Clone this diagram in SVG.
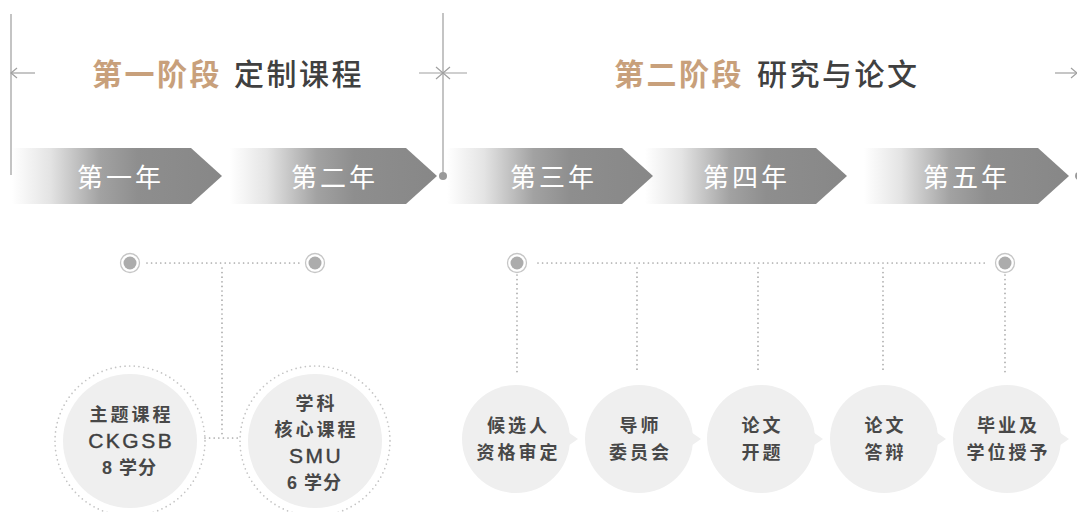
<svg xmlns="http://www.w3.org/2000/svg" width="1077" height="512" viewBox="0 0 1077 512">
  <defs>
    <linearGradient id="bannerGrad" x1="0" y1="0" x2="1" y2="0">
      <stop offset="0" stop-color="#ffffff"/>
      <stop offset="0.18" stop-color="#e4e4e4"/>
      <stop offset="0.42" stop-color="#a2a2a2"/>
      <stop offset="0.6" stop-color="#8e8e8e"/>
      <stop offset="1" stop-color="#878787"/>
    </linearGradient>
    <style>
      .title-a { font-family: "Noto Sans CJK SC", "Liberation Sans", sans-serif; font-size: 30px; font-weight: 700; fill: #c8a07b; letter-spacing: 2.5px; }
      .title-b { font-family: "Noto Sans CJK SC", "Liberation Sans", sans-serif; font-size: 30px; font-weight: 500; fill: #404040; letter-spacing: 2.5px; }
      .year { font-family: "Noto Sans CJK SC", "Liberation Sans", sans-serif; font-size: 26px; font-weight: 400; fill: #ffffff; letter-spacing: 3px; text-anchor: middle; }
      .banner { fill: url(#bannerGrad); }
      .guide { stroke: #b0b0b0; stroke-width: 1.5; fill: none; }
      .arrow { stroke: #a0a0a0; stroke-width: 1.2; fill: none; }
      .dots { stroke: #a8a8a8; stroke-width: 1.7; stroke-linecap: round; stroke-dasharray: 0 4.6; fill: none; }
      .ring-dots { stroke: #c4c4c4; stroke-width: 1.7; stroke-linecap: round; stroke-dasharray: 0 4.7; fill: none; }
      .marker-ring { fill: #ffffff; stroke: #c6c6c6; stroke-width: 1.3; }
      .marker-dot { fill: #acacac; }
      .bubble { fill: #efefef; }
      .lbl { font-family: "Liberation Sans", "Noto Sans CJK SC", sans-serif; font-size: 18px; font-weight: 700; fill: #484848; letter-spacing: 3px; text-anchor: middle; }
      .lbl-num { letter-spacing: 1px; }
      .lbl-en { font-family: "Liberation Sans", "Noto Sans CJK SC", sans-serif; font-size: 21px; font-weight: 400; fill: #404040; letter-spacing: 2.5px; text-anchor: middle; stroke: #404040; stroke-width: 0.4; }
    </style>
  </defs>

  <rect x="0" y="0" width="1077" height="512" fill="#ffffff"/>

  <!-- Stage headers -->
  <g id="stage1-title">
    <text class="title-a" x="92" y="85">第一阶段</text>
    <text class="title-b" x="234" y="85">定制课程</text>
  </g>
  <g id="stage2-title">
    <text class="title-a" x="614" y="85">第二阶段</text>
    <text class="title-b" x="757" y="85">研究与论文</text>
  </g>

  <!-- Year banners (drawn right to left so each tip overlays the next one's faded start) -->
  <g id="year5">
    <path class="banner" d="M864,148 H1038 L1069,176 L1038,204 H864 Z"/>
    <text class="year" x="966.5" y="187">第五年</text>
  </g>
  <g id="year4">
    <path class="banner" d="M645,148 H816 L847,176 L816,204 H645 Z"/>
    <text class="year" x="746.5" y="187">第四年</text>
  </g>
  <g id="year3">
    <path class="banner" d="M447,148 H622 L653,176 L622,204 H447 Z"/>
    <text class="year" x="553.5" y="187">第三年</text>
  </g>
  <g id="year2">
    <path class="banner" d="M230,148 H406 L437,176 L406,204 H230 Z"/>
    <text class="year" x="334.5" y="187">第二年</text>
  </g>
  <g id="year1">
    <path class="banner" d="M12,148 H191 L222,176 L191,204 H12 Z"/>
    <text class="year" x="120.5" y="187">第一年</text>
  </g>

  <!-- Stage span guides -->
  <g id="guides">
    <line class="guide" x1="11" y1="14" x2="11" y2="175"/>
    <line class="guide" x1="443" y1="13" x2="443" y2="176"/>
    <circle cx="443" cy="176" r="4" fill="#9a9a9a"/>
    <circle cx="1079" cy="176" r="4" fill="#9a9a9a"/>
    <line class="arrow" x1="11" y1="73" x2="35" y2="73"/>
    <polyline class="arrow" points="17,68 11,73 17,78"/>
    <line class="arrow" x1="419" y1="73" x2="467" y2="73"/>
    <polyline class="arrow" points="436,67 443,73 436,79"/>
    <polyline class="arrow" points="450,67 443,73 450,79"/>
    <line class="arrow" x1="1055" y1="73" x2="1077" y2="73"/>
    <polyline class="arrow" points="1071,68 1077,73 1071,78"/>
  </g>

  <!-- Dotted connectors -->
  <g id="connectors">
    <line class="dots" x1="147" y1="263" x2="302" y2="263"/>
    <line class="dots" x1="222" y1="268" x2="222" y2="438"/>
    <line class="dots" x1="205" y1="438" x2="240" y2="438"/>
    <line class="dots" x1="538" y1="263" x2="988" y2="263"/>
    <line class="dots" x1="517" y1="275" x2="517" y2="373"/>
    <line class="dots" x1="637" y1="268" x2="637" y2="373"/>
    <line class="dots" x1="758" y1="268" x2="758" y2="373"/>
    <line class="dots" x1="883" y1="268" x2="883" y2="373"/>
    <line class="dots" x1="1005" y1="275" x2="1005" y2="373"/>
  </g>

  <!-- Timeline markers -->
  <g id="marker-1">
    <circle class="marker-ring" cx="130" cy="263" r="9.5"/>
    <circle class="marker-dot" cx="130" cy="263" r="6.5"/>
  </g>
  <g id="marker-2">
    <circle class="marker-ring" cx="315" cy="263" r="9.5"/>
    <circle class="marker-dot" cx="315" cy="263" r="6.5"/>
  </g>
  <g id="marker-3">
    <circle class="marker-ring" cx="517" cy="263" r="9.5"/>
    <circle class="marker-dot" cx="517" cy="263" r="6.5"/>
  </g>
  <g id="marker-4">
    <circle class="marker-ring" cx="1005" cy="263" r="9.5"/>
    <circle class="marker-dot" cx="1005" cy="263" r="6.5"/>
  </g>

  <!-- Course circles -->
  <g id="course-ckgsb">
    <circle class="ring-dots" cx="130" cy="441" r="75"/>
    <circle class="bubble" cx="130" cy="441" r="67"/>
    <text class="lbl" x="131.5" y="421">主题课程</text>
    <text class="lbl-en" x="131.2" y="448">CKGSB</text>
    <text class="lbl lbl-num" x="129.5" y="474">8 学分</text>
  </g>
  <g id="course-smu">
    <circle class="ring-dots" cx="315" cy="441" r="75"/>
    <circle class="bubble" cx="315" cy="441" r="67"/>
    <text class="lbl" x="316.5" y="410">学科</text>
    <text class="lbl" x="316.5" y="436">核心课程</text>
    <text class="lbl-en" x="316.2" y="463">SMU</text>
    <text class="lbl lbl-num" x="314.5" y="489">6 学分</text>
  </g>

  <!-- Research milestones -->
  <g id="step-qualify">
    <circle class="bubble" cx="516" cy="439" r="54"/>
    <polygon class="bubble" points="565,430 578,439 565,448"/>
    <text class="lbl" x="518.5" y="432">候选人</text>
    <text class="lbl" x="518.5" y="459">资格审定</text>
  </g>
  <g id="step-committee">
    <circle class="bubble" cx="639" cy="439" r="54"/>
    <polygon class="bubble" points="688,430 701,439 688,448"/>
    <text class="lbl" x="640.5" y="432">导师</text>
    <text class="lbl" x="640.5" y="459">委员会</text>
  </g>
  <g id="step-proposal">
    <circle class="bubble" cx="761" cy="439" r="54"/>
    <polygon class="bubble" points="810,430 823,439 810,448"/>
    <text class="lbl" x="762.5" y="432">论文</text>
    <text class="lbl" x="762.5" y="459">开题</text>
  </g>
  <g id="step-defense">
    <circle class="bubble" cx="884" cy="439" r="54"/>
    <polygon class="bubble" points="933,430 946,439 933,448"/>
    <text class="lbl" x="885.5" y="432">论文</text>
    <text class="lbl" x="885.5" y="459">答辩</text>
  </g>
  <g id="step-degree">
    <circle class="bubble" cx="1007" cy="439" r="54"/>
    <polygon class="bubble" points="1056,430 1069,439 1056,448"/>
    <text class="lbl" x="1008.5" y="432">毕业及</text>
    <text class="lbl" x="1008.5" y="459">学位授予</text>
  </g>
</svg>
